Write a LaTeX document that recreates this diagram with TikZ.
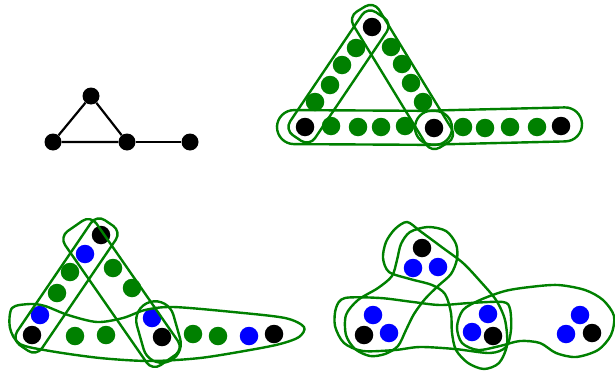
\documentclass[tikz,border=0pt]{standalone}
\usetikzlibrary{calc}
\definecolor{hgreen}{RGB}{0,128,0}
\definecolor{hblue}{RGB}{0,0,255}

\newcommand{\hedge}[5][8pt]{%
  \path let \p1=($#4-#3$), \n1={atan2(\y1,\x1)}, \n2={veclen(\x1,\y1)} in
    node[hbox, rounded corners=#1, rotate=\n1, minimum width=\n2, minimum height=2*#5] (#2) at ($#3!0.5!#4$) {};}

\begin{document}
\begin{tikzpicture}[x=1pt, y=-1pt,
    vblack/.style={circle, fill=black, minimum size=18.5pt, inner sep=0pt},
    vgreen/.style={vblack, fill=hgreen},
    vblue/.style={vblack, fill=hblue},
    small/.style={minimum size=17pt},
    gedge/.style={line width=2.2pt},
    hbox/.style={rectangle, draw=hgreen, line width=2.4pt},
    hcurve/.style={draw=hgreen, line width=2.4pt}
]
\useasboundingbox (0,0) rectangle (615,372);

\node[vblack, small] (a1) at (91,96) {};
\node[vblack, small] (a2) at (53,142) {};
\node[vblack, small] (a3) at (127,142) {};
\node[vblack, small] (a4) at (190,142) {};
\draw[gedge] (a1) -- (a2) -- (a3) -- (a1);
\draw[gedge] (a3) -- (a4);

\node[vblack] (bt) at (372,27) {};
\node[vblack] (bl) at (305,127) {};
\node[vblack] (bm) at (434,128) {};
\node[vblack] (br) at (561,126) {};
\foreach \x/\y [count=\i] in {356/48, 342/65, 330/85, 315/102}
  \node[vgreen] (bgl\i) at (\x,\y) {};
\foreach \x/\y [count=\i] in {391/47, 402/64, 411/83, 423/102}
  \node[vgreen] (bgr\i) at (\x,\y) {};
\foreach \x/\y [count=\i] in {331/126, 358/127, 381/127, 405/126}
  \node[vgreen] (bgb\i) at (\x,\y) {};
\foreach \x/\y [count=\i] in {463/127, 485/128, 510/127, 537/127}
  \node[vgreen] (bgt\i) at (\x,\y) {};
\hedge[10pt]{be1}{(380,15)}{(297,138)}{15}
\hedge[10pt]{be2}{(361,9)}{(444,145)}{15}
\hedge[17pt]{be3}{(277,127)}{(452,128)}{17}
\hedge[17pt]{be4}{(415,128)}{(582,124)}{17}

\node[vblack] (ct) at (101,235) {};
\node[vblack] (cl) at (32,335) {};
\node[vblack] (cm) at (162,337) {};
\node[vblack] (cr) at (274,334) {};
\node[vblue] (cu1) at (85,254) {};
\node[vblue] (cu2) at (40,315) {};
\node[vblue] (cu3) at (152,318) {};
\node[vblue] (cu4) at (249,336) {};
\foreach \x/\y [count=\i] in {70/272, 57/293, 113/268, 132/288, 75/336, 106/335, 193/334, 218/336}
  \node[vgreen] (cg\i) at (\x,\y) {};
\hedge[10pt]{ce1}{(109,223)}{(24,348)}{15}
\hedge[10pt]{ce2}{(75,226)}{(168,360)}{19}
\hedge[19pt]{ce3}{(150,302)}{(167,362)}{19}
\draw[hcurve] plot[smooth cycle] coordinates {(12,308) (30,304) (45,306) (68,315) (97,322)
  (123,318) (145,310) (173,307) (233,312) (285,318) (304,327) (299,337) (280,344) (250,350)
  (200,358) (150,361) (100,358) (50,351) (20,344) (10,328)};

\node[vblack] (dt) at (422,248) {};
\node[vblue] (dt1) at (413,268) {};
\node[vblue] (dt2) at (438,267) {};
\node[vblue] (dl1) at (373,315) {};
\node[vblack] (dl) at (364,335) {};
\node[vblue] (dl2) at (389,333) {};
\node[vblue] (dm1) at (488,314) {};
\node[vblue] (dm2) at (472,332) {};
\node[vblack] (dm) at (493,336) {};
\node[vblue] (dr1) at (580,315) {};
\node[vblue] (dr2) at (566,334) {};
\node[vblack] (dr) at (592,333) {};
\draw[hcurve] plot[smooth cycle] coordinates {(410,232) (428,227) (446,231) (456,244) (457,259)
  (451,274) (438,286) (425,299) (414,314) (406,330) (398,346) (385,354) (370,356) (355,349)
  (346,335) (346,315) (358,300) (378,288) (392,276) (397,260) (401,244)};
\draw[hcurve] plot[smooth cycle] coordinates {(407,222) (420,231) (443,248) (463,263) (480,281)
  (496,300) (505,320) (507,345) (499,363) (484,369) (468,363) (456,350) (452,333) (451,313)
  (445,294) (432,285) (410,279) (389,272) (383,258) (386,242) (395,229)};
\draw[hcurve] plot[smooth cycle] coordinates {(345,298) (380,298) (413,302) (440,305) (470,303)
  (503,302) (510,309) (511,330) (506,347) (490,353) (455,349) (420,347) (395,350) (363,351)
  (344,343) (335,326) (336,308)};
\draw[hcurve] plot[smooth cycle] coordinates {(457,327) (463,310) (480,300) (505,291) (530,287)
  (558,285) (585,290) (603,300) (614,316) (611,335) (598,350) (576,357) (556,353) (540,343)
  (520,341) (500,346) (478,350) (462,343)};

\end{tikzpicture}
\end{document}
